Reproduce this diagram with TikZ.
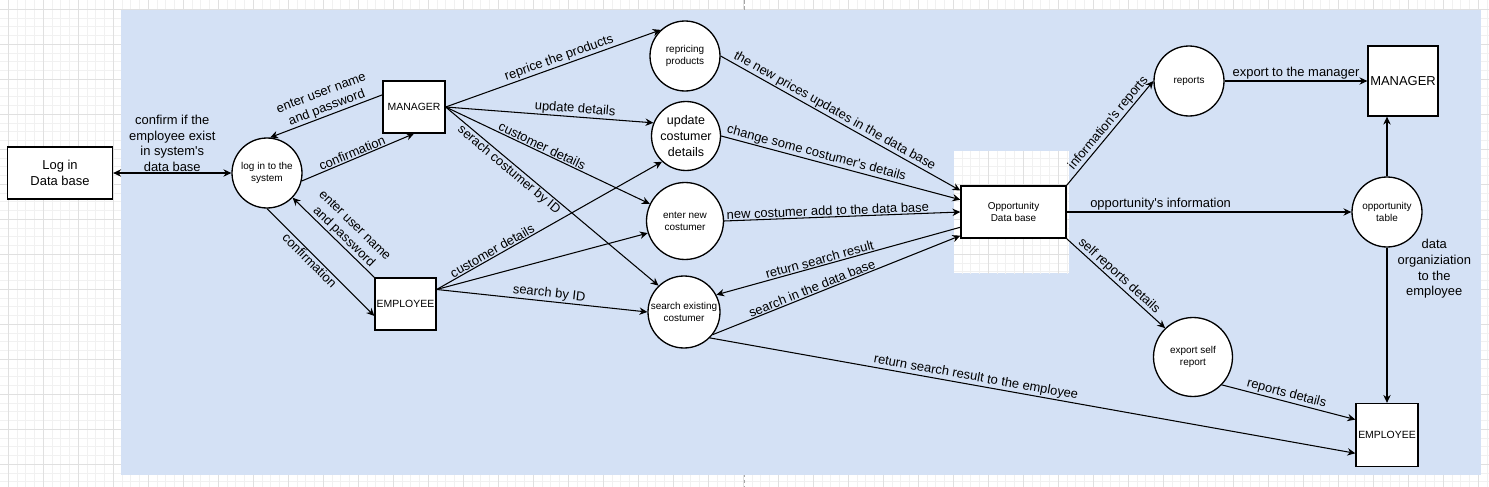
\documentclass[tikz,border=0pt]{standalone}
\usepackage{fontspec}
\setmainfont{Liberation Sans}[Ligatures=TeXOff]
\usetikzlibrary{arrows.meta}
\definecolor{panel}{HTML}{D4E1F5}
\definecolor{gridmajor}{HTML}{E0E0E0}
\definecolor{gridminor}{HTML}{F1F1F1}
\newcommand\lblfont{\fontsize{7.37}{8.85}\selectfont}
\newcommand\procfont{\fontsize{5.67}{6.8}\selectfont}
\newcommand\entfont{\fontsize{5.95}{7.1}\selectfont}
% the page grid of the editor
\newcommand\pagegrid{%
  \foreach \i in {0,...,169} \draw[minorline] ({8.3+8.75*\i},0) -- ({8.3+8.75*\i},487);
  \foreach \j in {0,...,54} \draw[minorline] (0,{9.3+8.75*\j}) -- (1489,{9.3+8.75*\j});
  \foreach \i in {0,...,42} \draw[majorline] ({8.3+35*\i},0) -- ({8.3+35*\i},487);
  \foreach \j in {0,...,13} \draw[majorline] (0,{9.3+35*\j}) -- (1489,{9.3+35*\j});
}

\begin{document}
\begin{tikzpicture}[x=0.02cm, y=-0.02cm, >={Stealth[length=4.5pt,width=4.2pt]},
  minorline/.style={draw=gridminor, line width=0.5pt},
  majorline/.style={draw=gridmajor, line width=0.5pt},
  proc/.style={circle, draw, fill=white, line width=0.75pt, inner sep=0pt, align=center, font=\procfont},
  ent/.style={rectangle, draw, fill=white, line width=0.75pt, inner sep=0pt, align=center, font=\entfont},
  flow/.style={->, line width=0.6pt},
  lbl/.style={font=\lblfont, inner sep=0.6pt, align=center},
  slbl/.style={lbl, sloped}]
\useasboundingbox (0,0) rectangle (1489,487);
\fill[white] (0,0) rectangle (1489,487);
\pagegrid
\draw[gray!70, line width=0.5pt, dash pattern=on 2pt off 1.5pt] (744,0) -- (744,487);
\fill[panel] (121,10) rectangle (1481,475);
% white patch behind the data base
\begin{scope}
\clip (954,151) rectangle (1069,273);
\fill[white] (954,151) rectangle (1069,273);
\pagegrid
\end{scope}
% entities and processes
\node[ent, minimum width=2.1cm, minimum height=1.04cm, font=\lblfont] (logdb) at (60,173) {Log in\\Data base};
\node[proc, minimum size=1.4cm] (login) at (267,173) {log in to the\\system};
\node[ent, minimum width=1.24cm, minimum height=1.04cm] (mgrA) at (414,107) {MANAGER};
\node[ent, minimum width=1.22cm, minimum height=1.04cm] (empA) at (405.5,304) {EMPLOYEE};
\node[proc, minimum size=1.4cm] (repr) at (685,56) {repricing\\products};
\node[proc, minimum size=1.38cm, font=\fontsize{7.1}{8.85}\selectfont] (upd) at (686,136) {update\\costumer\\details};
\node[proc, minimum size=1.54cm] (newc) at (685,221) {enter new\\costumer};
\node[proc, minimum size=1.44cm] (srch) at (684,312) {search existing\\costumer};
\node[ent, minimum width=2.1cm, minimum height=1.04cm, font=\procfont] (oppdb) at (1013.5,212) {Opportunity\\Data base};
\node[proc, minimum size=1.4cm] (rep) at (1189,81) {reports};
\node[ent, minimum size=1.4cm, font=\lblfont] (mgrB) at (1403,81) {MANAGER};
\node[proc, minimum size=1.4cm] (opt) at (1387,212) {opportunity\\table};
\node[proc, minimum size=1.58cm] (exps) at (1193,357) {export self\\report};
\node[ent, minimum width=1.24cm, minimum height=1.26cm] (empB) at (1387,435) {EMPLOYEE};
% log in
\draw[<->, line width=0.6pt] (logdb) -- node[lbl, above] {confirm if the\\employee exist\\in system's\\data base} (login);
\draw[flow] (mgrA.159) -- node[slbl, above, pos=.47] {enter user name\\and password} (login.85);
\draw[flow] (login.-13) -- node[slbl, above, pos=.47] {confirmation} (mgrA.south);
\draw[flow] (empA.north west) -- node[slbl, above, pos=.44] {enter user name\\and password} (login.-44);
\draw[flow] (login.south) -- node[slbl, below, pos=.44] {confirmation} (empA.201);
% manager flows
\draw[flow] (mgrA.east) -- node[slbl, above, pos=.54] {reprice the products} (repr.133);
\draw[flow] (mgrA.east) -- node[slbl, above, pos=.62] {update details} (upd.158);
\draw[flow] (mgrA.east) -- node[slbl, above, pos=.46] {customer details} (newc.154);
\draw[flow] (mgrA.east) -- node[slbl, below, pos=.32] {serach costumer by ID} (srch.134);
% employee flows
\draw[flow] (empA.25) -- node[slbl, above, pos=.26] {customer details} (upd.227);
\draw[flow] (empA.25) -- (newc.198);
\draw[flow] (empA.25) -- node[slbl, above, pos=.53] {search by ID} (srch.west);
% into the data base
\draw[flow] (repr.east) -- node[slbl, above, pos=.46] {the new prices updates in the data base} (oppdb.158);
\draw[flow] (upd.east) -- node[slbl, above, pos=.39] {change some costumer's details} (oppdb.167);
\draw[flow] (newc.east) -- node[slbl, above, pos=.44] {new costumer add to the data base} (oppdb.west);
\draw[flow] (oppdb.196) -- node[slbl, above, pos=.57] {return search result} (srch.28);
\draw[flow] (srch.-38) -- node[slbl, above, pos=.41] {search in the data base} (oppdb.204);
\draw[flow] (srch.-45) -- node[slbl, above, pos=.41] {return search result to the employee} (empB.210);
% out of the data base
\draw[flow] (oppdb.north east) -- node[slbl, above, pos=.55] {information's reports} (rep.west);
\draw[flow] (rep.east) -- node[slbl, above] {export to the manager} (mgrB.west);
\draw[flow] (oppdb.east) -- node[slbl, above, pos=.33] {opportunity's information} (opt.west);
\draw[flow] (opt.north) -- (opt.north |- mgrB.south);
\draw[flow] (opt.south) -- node[lbl, right, pos=.137, xshift=0.18cm] {data\\organiziation\\to the\\employee} (empB.north);
\draw[flow] (oppdb.south east) -- node[slbl, above, pos=.48] {self reports details} (exps.134);
\draw[flow] (exps.-44) -- node[slbl, above, pos=.47] {reports details} (empB.154);
\end{tikzpicture}
\end{document}
